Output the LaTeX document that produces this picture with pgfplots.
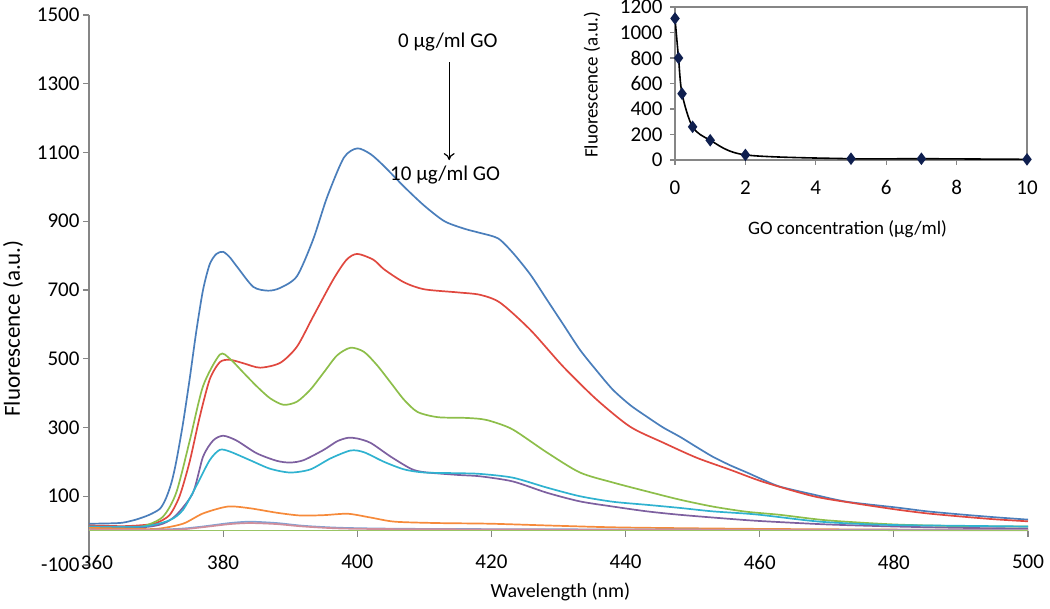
\documentclass[border=0pt]{standalone}
\usepackage{pgfplots}
\pgfplotsset{compat=1.18}
\usepackage{fontspec}
\setmainfont{Carlito}
\usetikzlibrary{arrows.meta}
\definecolor{axisgray}{HTML}{868686}
\definecolor{s1}{HTML}{4A7EBB}
\definecolor{s2}{HTML}{E0483F}
\definecolor{s3}{HTML}{8DBE4A}
\definecolor{s4}{HTML}{7D60A0}
\definecolor{s5}{HTML}{2FB2D0}
\definecolor{s6}{HTML}{F68A3A}
\definecolor{s7}{HTML}{7FA2D4}
\definecolor{s8}{HTML}{D08E9C}
\definecolor{s9}{HTML}{9BC565}
\definecolor{mk}{HTML}{0F1F4F}
\begin{document}
\begin{tikzpicture}[font=\fontsize{19}{22}\selectfont]
\useasboundingbox (0,0) rectangle (1050pt,609pt);
\begin{axis}[
  at={(89pt,44pt)}, anchor=south west, scale only axis,
  width=939pt, height=550pt,
  xmin=360, xmax=500, ymin=-100, ymax=1500,
  axis x line*=middle, axis y line*=left,
  hide obscured x ticks=false, hide obscured y ticks=false,
  xtick={360,380,...,500}, ytick={-100,100,...,1500},
  xticklabels={{\rlap{\hspace{-8pt}360}},380,400,420,440,460,480,500},
  tick align=outside, major tick length=6pt,
  axis line style={draw=axisgray, line width=1.5pt},
  tick style={draw=axisgray, line width=1.2pt},
  xticklabel style={yshift=-15pt},
  /pgf/number format/assume math mode=true,
  /pgf/number format/1000 sep={},
  ticklabel style={font=\fontsize{21}{24}\selectfont, text=black},
  xlabel={Wavelength (nm)}, ylabel={Fluorescence (a.u.)},
  every axis x label/.style={at={(axis description cs:0.502,-0.049)}, anchor=center, font=\fontsize{20}{23}\selectfont},
  every axis y label/.style={at={(axis description cs:-0.081,0.43)}, rotate=90, anchor=center, font=\fontsize{23}{26}\selectfont},
  every axis plot/.append style={line width=1.7pt, smooth, tension=0.45, no markers},
]
\addplot[s1] coordinates {(360,20)(363,21)(365,23)(367,32)(369,46)(370.6,64)(371.5,95)(372.3,140)(373,200)(374,310)(375,440)(376,580)(377,700)(378,775)(379,805)(380,811)(381,795)(382.1,767)(384.5,709)(386.7,698)(388.5,706)(391,740)(393.4,846)(395.5,970)(398,1085)(400,1112)(402,1095)(404,1060)(407,1000)(410,945)(413,900)(416,878)(418.3,866)(421,850)(423.2,808)(425.8,745)(428.3,671)(430.7,600)(433.2,526)(435.7,465)(438.1,410)(440.7,365)(443.2,331)(445.6,300)(448.1,273)(450.6,243)(453,215)(455.6,190)(458.1,169)(460.5,148)(463,128)(468,105)(473,84)(480.5,67)(485,56)(490,47)(495,39)(500,32)};
\addplot[s2] coordinates {(360,15)(365,13)(368,16)(370,22)(372,45)(373.5,100)(375,200)(376.5,330)(378,440)(379.5,490)(381,497)(383,487)(385.5,474)(388.5,488)(391,535)(393.4,622)(396.4,730)(398.4,788)(400,805)(402.4,788)(404,760)(407,722)(410,702)(415,693)(418.3,686)(421.3,663)(425.8,584)(430.7,477)(435.7,381)(440.7,302)(445.6,256)(450.6,212)(455.6,177)(460.5,142)(468,100)(474,80)(480.5,61)(485,50)(490,41)(495,33)(500,27)};
\addplot[s3] coordinates {(360,10)(365,9)(368,12)(371,40)(373,110)(375,260)(377,420)(379.5,512)(381,500)(383,460)(385,420)(387,385)(389,366)(391,375)(393,410)(395,460)(397,510)(399,532)(401,520)(403,480)(405,430)(407,380)(409,345)(412,330)(416,328)(418.3,325)(420,318)(423.2,294)(428.3,227)(433.2,169)(438.1,140)(443.2,114)(448.1,90)(453,70)(458,55)(463,46)(470,30)(480,18)(490,13)(500,12)};
\addplot[s4] coordinates {(360,10)(368,10)(371,20)(373,45)(375.5,110)(377,215)(378.5,262)(380,276)(382,262)(385,225)(388,203)(390,198)(392,205)(395,235)(397,260)(398.6,270)(400,268)(402,255)(405,215)(408,180)(410,170)(415,162)(418.3,158)(423.2,143)(428.3,110)(433.2,85)(438.1,70)(443.2,56)(448.1,46)(455,35)(460,28)(470,18)(480,12)(490,8)(500,6)};
\addplot[s5] coordinates {(360,12)(368,12)(372,30)(374,60)(376,130)(378,205)(379.5,235)(381,230)(384,205)(387,180)(390,169)(393,178)(396,210)(399,233)(401,228)(404,200)(407,178)(410,169)(415,167)(418.3,165)(423.2,154)(428.3,125)(433.2,100)(438.1,84)(443.2,75)(448.1,66)(453,56)(459.5,47)(469,26)(478.4,17)(490,14)(500,12)};
\addplot[s6] coordinates {(360,8)(365,6)(370,5)(374,20)(377,50)(380.7,70)(384,65)(388,52)(391.5,44)(395,45)(398.6,49)(402,38)(405.6,26)(412,22)(420,20)(430,14)(440,9)(460,5)(480,3)(500,2)};
\addplot[s7] coordinates {(360,3)(370,3)(374,6)(377,12)(381,22)(384,26)(388,22)(392,14)(398,8)(410,5)(450,3)(500,2)};
\addplot[s8] coordinates {(360,2)(370,2)(374,4)(377,10)(381,19)(384,22)(388,19)(392,12)(398,6)(410,4)(450,2)(500,1)};
\addplot[s9] coordinates {(360,0)(400,0)(450,0)(500,0)};
\node[font=\fontsize{21}{24}\selectfont] at (axis cs:413.5,1421) {0 µg/ml GO};
\draw[line width=1.2pt, -{To[length=7pt,width=11pt]}] (axis cs:413.7,1363) -- (axis cs:413.7,1078);
\node[font=\fontsize{21}{24}\selectfont] at (axis cs:413.1,1035) {10 µg/ml GO};
\end{axis}
\begin{axis}[
  at={(675pt,449pt)}, anchor=south west, scale only axis,
  width=352pt, height=153pt,
  xmin=0, xmax=10, ymin=0, ymax=1200,
  xtick={0,2,...,10}, ytick={0,200,...,1200},
  xtick pos=bottom, ytick pos=left,
  tick align=outside, major tick length=5pt,
  axis line style={draw=axisgray, line width=1.4pt},
  tick style={draw=axisgray, line width=1.2pt},
  /pgf/number format/assume math mode=true,
  /pgf/number format/1000 sep={},
  ticklabel style={font=\fontsize{21}{24}\selectfont, text=black},
  xticklabel style={yshift=-12pt},
  yticklabel style={xshift=-4pt},
  xlabel={GO concentration (µg/ml)}, ylabel={Fluorescence (a.u.)},
  every axis x label/.style={at={(axis description cs:0.49,-0.45)}, anchor=center},
  every axis y label/.style={at={(axis description cs:-0.236,0.49)}, rotate=90, anchor=center},
]
\addplot[black, line width=1.6pt, smooth, tension=0.5, mark=diamond*, mark size=5pt,
  mark options={fill=mk, draw=mk}] coordinates {(0,1110)(0.1,800)(0.2,520)(0.5,260)(1,155)(2,40)(5,10)(7,10)(10,5)};
\end{axis}
\end{tikzpicture}
\end{document}
